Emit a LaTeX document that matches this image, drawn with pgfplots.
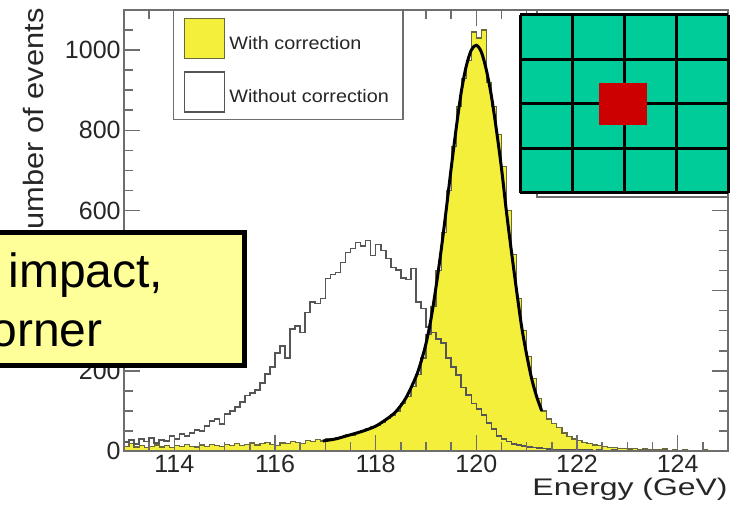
\documentclass[border=0pt]{standalone}
\usepackage{fontspec}
\setmainfont{Liberation Sans}
\usepackage{pgfplots}
\pgfplotsset{compat=1.18}

\definecolor{yellowfill}{RGB}{243,239,58}
\definecolor{histedge}{RGB}{105,105,60}
\definecolor{openline}{RGB}{85,85,85}
\definecolor{framegray}{RGB}{110,110,110}
\definecolor{cellgreen}{RGB}{0,204,153}
\definecolor{hitred}{RGB}{204,0,0}
\definecolor{notefill}{RGB}{255,255,153}

\begin{document}
\begin{tikzpicture}
\begin{axis}[
  at={(62pt,29pt)}, anchor=south west,
  scale only axis, width=302pt, height=220.5pt,
  xmin=113, xmax=125, ymin=0, ymax=1100,
  xtick={112,114,...,126}, ytick={0,200,...,1200},
  minor x tick num=3, minor y tick num=3,
  tick align=inside, tick pos=both,
  xticklabel pos=left, yticklabel pos=left,
  major tick length=8pt, minor tick length=4.5pt,
  axis line style={framegray, line width=0.75pt},
  tick style={framegray, line width=0.75pt},
  ticklabel style={font=\fontsize{12.5}{14}\selectfont, text=black!85},
  yticklabel style={inner sep=1.5pt},
  xticklabel style={inner sep=2pt},
  /pgf/number format/assume math mode=true,
  /pgf/number format/set thousands separator={},
  xlabel={\scalebox{1.33}[1]{Energy (GeV)}},
  ylabel={\scalebox{1.1}[1]{Number of events}},
  every axis x label/.style={at={(axis description cs:1,-0.1)}, anchor=base east,
    inner sep=0pt, font=\fontsize{12}{14}\selectfont, text=black!85},
  every axis y label/.style={at={(axis description cs:-0.1341,1.0045)}, anchor=base east,
    inner sep=0pt, rotate=90, font=\fontsize{14}{16}\selectfont, text=black!85},
  axis on top,
  legend style={at={(axis description cs:0.0811,1)}, anchor=north west,
    draw=framegray, line width=0.75pt, fill=white,
    inner xsep=5pt, inner ysep=3.5pt, row sep=6pt,
    font=\fontsize{9}{10}\selectfont, text=black!85},
  legend cell align=left,
  legend image code/.code={\draw[#1] (0pt,-7pt) rectangle (20pt,13pt);},
]
% with correction, 0.1 GeV bins (left edges)
\addplot[const plot mark left, fill=yellowfill, draw=histedge, line width=0.6pt] coordinates {
(113.0,12)(113.1,18)(113.2,10)(113.3,14)(113.4,8)(113.5,12)(113.6,15)(113.7,10)(113.8,13)(113.9,9)
(114.0,14)(114.1,11)(114.2,16)(114.3,12)(114.4,10)(114.5,15)(114.6,12)(114.7,17)(114.8,13)(114.9,11)
(115.0,16)(115.1,14)(115.2,18)(115.3,13)(115.4,17)(115.5,20)(115.6,15)(115.7,19)(115.8,22)(115.9,16)
(116.0,14)(116.1,20)(116.2,18)(116.3,24)(116.4,21)(116.5,19)(116.6,26)(116.7,23)(116.8,28)(116.9,25)
(117.0,30)(117.1,28)(117.2,33)(117.3,36)(117.4,40)(117.5,38)(117.6,46)(117.7,50)(117.8,55)(117.9,60)
(118.0,64)(118.1,72)(118.2,82)(118.3,90)(118.4,100)(118.5,118)(118.6,135)(118.7,160)(118.8,190)(118.9,232)
(119.0,290)(119.1,360)(119.2,450)(119.3,545)(119.4,650)(119.5,760)(119.6,860)(119.7,930)(119.8,975)(119.9,1045)
(120.0,1030)(120.1,1050)(120.2,920)(120.3,860)(120.4,790)(120.5,710)(120.6,600)(120.7,490)(120.8,380)(120.9,300)
(121.0,235)(121.1,180)(121.2,130)(121.3,100)(121.4,80)(121.5,68)(121.6,58)(121.7,45)(121.8,36)(121.9,30)
(122.0,26)(122.1,22)(122.2,18)(122.3,15)(122.4,14)(122.5,11)(122.6,9)(122.7,8)(122.8,7)(122.9,6)
(123.0,5)(123.1,6)(123.2,4)(123.3,5)(123.4,3)(123.5,4)(123.6,3)(123.7,5)(123.8,2)(123.9,3)
(124.0,2)(124.1,3)(124.2,2)(124.3,1)(124.4,2)(124.5,3)(124.6,1)(124.7,2)(124.8,1)(124.9,2)(125.0,2)
} \closedcycle;
\addlegendentry{\scalebox{1.1}[1]{With correction}}
% without correction
\addplot[const plot mark left, draw=openline, line width=0.8pt] coordinates {
(113.0,22)(113.1,28)(113.2,18)(113.3,30)(113.4,24)(113.5,32)(113.6,20)(113.7,27)(113.8,25)(113.9,38)
(114.0,30)(114.1,42)(114.2,38)(114.3,45)(114.4,52)(114.5,50)(114.6,62)(114.7,75)(114.8,80)(114.9,68)
(115.0,92)(115.1,100)(115.2,110)(115.3,122)(115.4,138)(115.5,145)(115.6,152)(115.7,170)(115.8,192)(115.9,210)
(116.0,245)(116.1,262)(116.2,232)(116.3,305)(116.4,312)(116.5,296)(116.6,345)(116.7,372)(116.8,368)(116.9,380)
(117.0,430)(117.1,440)(117.2,445)(117.3,470)(117.4,495)(117.5,505)(117.6,520)(117.7,512)(117.8,525)(117.9,488)
(118.0,515)(118.1,500)(118.2,480)(118.3,458)(118.4,452)(118.5,432)(118.6,428)(118.7,455)(118.8,372)(118.9,355)
(119.0,310)(119.1,296)(119.2,280)(119.3,270)(119.4,232)(119.5,210)(119.6,190)(119.7,158)(119.8,140)(119.9,118)
(120.0,105)(120.1,90)(120.2,70)(120.3,55)(120.4,38)(120.5,30)(120.6,24)(120.7,18)(120.8,15)(120.9,12)
(121.0,10)(121.1,9)(121.2,7)(121.3,6)(121.4,5)(121.5,4)(121.6,4)(121.7,3)(121.8,3)(121.9,2)
(122.0,3)(122.1,2)(122.2,2)(122.3,1)(122.4,2)(122.5,1)(122.6,1)(122.7,2)(122.8,1)(122.9,1)
(123.0,1)(123.1,0)(123.2,1)(123.3,1)(123.4,0)(123.5,1)(123.6,0)(123.7,1)(123.8,0)(123.9,1)
(124.0,0)(124.1,1)(124.2,0)(124.3,0)(124.4,1)(124.5,0)(124.6,1)(124.7,0)(124.8,0)(124.9,1)(125.0,1)
};
\addlegendentry{\scalebox{1.1}[1]{Without correction}}
% fitted curve
\addplot[black, line width=1.5pt, smooth, forget plot] coordinates {
(116.95,25)(117.2,30)(117.4,37)(117.6,44)(117.8,52)(118.0,62)(118.2,78)(118.4,98)
(118.6,132)(118.8,185)(118.9,222)(119.0,268)(119.1,330)(119.2,410)(119.3,500)(119.4,600)
(119.5,705)(119.6,805)(119.7,895)(119.8,960)(119.9,1000)(120.0,1012)(120.1,995)(120.2,950)
(120.3,885)(120.4,800)(120.5,705)(120.6,595)(120.7,495)(120.8,400)(120.9,310)(121.0,240)
(121.1,180)(121.2,135)(121.3,100)
};
\end{axis}
% inset: crystal matrix, impact in a corner
\draw[framegray, fill=white, line width=0.75pt] (268.5pt,156pt) rectangle (364pt,249.5pt);
\fill[cellgreen] (260pt,158pt) rectangle (364pt,247pt);
\foreach \i in {0,...,4} \draw[line width=1.5pt] (260pt+\i*26pt,158pt) -- ++(0,89pt);
\foreach \j in {0,...,4} \draw[line width=1.5pt] (260pt,158pt+\j*22.25pt) -- ++(104pt,0);
\fill[hitred] (299.5pt,192pt) rectangle (323.5pt,213pt);
% note box
\draw[line width=2.5pt, fill=notefill] (-20pt,71.75pt) rectangle (122.25pt,138.25pt);
\node[anchor=base west, font=\fontsize{24}{28}\selectfont, inner sep=0pt] at (4pt,110.5pt) {impact,};
\node[anchor=base west, font=\fontsize{24}{28}\selectfont, inner sep=0pt] at (-17pt,81pt) {corner};
\pgfresetboundingbox
\useasboundingbox (0,0) rectangle (370pt,254.5pt);
\end{tikzpicture}
\end{document}
